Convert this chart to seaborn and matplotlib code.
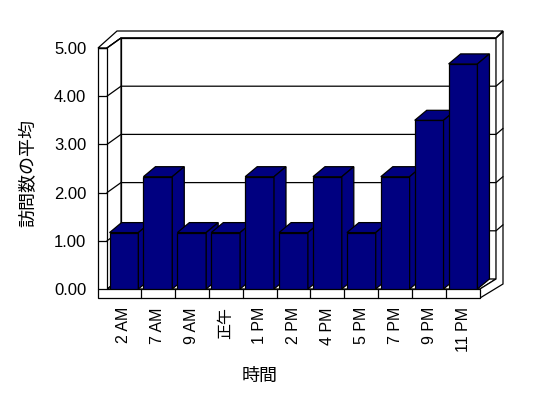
import matplotlib
matplotlib.use('Agg')
import matplotlib.pyplot as plt
import seaborn as sns
from matplotlib.patches import Polygon
from matplotlib.lines import Line2D
from matplotlib.transforms import IdentityTransform

# ---- data ----
hours = ['2 AM', '7 AM', '9 AM', '正午', '1 PM', '2 PM', '4 PM', '5 PM', '7 PM', '9 PM', '11 PM']
visits = [1.17, 2.33, 1.17, 1.17, 2.33, 1.17, 2.33, 1.17, 2.33, 3.5, 4.67]
y_ticks = [0, 1, 2, 3, 4, 5]
y_tick_labels = ['0.00', '1.00', '2.00', '3.00', '4.00', '5.00']
x_title = '時間'
y_title = '訪問数の平均'

sns.set_style('white')
plt.rcParams['font.family'] = ['Liberation Sans', 'Noto Sans CJK JP', 'DejaVu Sans']
plt.rcParams['text.color'] = 'black'
plt.rcParams['xtick.color'] = 'black'
plt.rcParams['ytick.color'] = 'black'
plt.rcParams['xtick.labelcolor'] = 'black'
plt.rcParams['ytick.labelcolor'] = 'black'

W, H = 548, 398
fig = plt.figure(figsize=(W / 100, H / 100), dpi=100)
fig.patch.set_facecolor('white')
ax = fig.add_axes([107 / W, (H - 289) / H, 373 / W, 241 / H])

NAVY = '#000080'
LW = 0.9
sns.barplot(x=hours, y=visits, order=hours, color=NAVY, saturation=1, width=0.85,
            edgecolor='black', linewidth=LW, ax=ax)
bars = list(ax.patches)
ax.set_xlim(-0.5, len(hours) - 0.5)
ax.set_ylim(0, 5)
ax.set_yticks(y_ticks)
ax.set_yticklabels(y_tick_labels)
ax.set_xlabel('')
ax.set_ylabel('')
ax.grid(False)
for s in ax.spines.values():
    s.set_visible(False)
ax.patch.set_visible(False)
ax.tick_params(axis='y', length=0, pad=15, labelsize=12, labelcolor='black')
ax.tick_params(axis='x', length=0, pad=13, labelsize=11.5, labelrotation=90, labelcolor='black')

IDT = IdentityTransform()


def P(x, y):
    return (x, H - y)


def poly(pts, z, fc='white'):
    ax.add_patch(Polygon(pts, closed=True, facecolor=fc, edgecolor='black', linewidth=LW,
                         transform=IDT, clip_on=False, zorder=z))


def line(pts, z):
    xs = [p[0] for p in pts]
    ys = [p[1] for p in pts]
    ax.add_line(Line2D(xs, ys, color='black', linewidth=LW, transform=IDT, clip_on=False, zorder=z))


# frame geometry (image pixel coordinates)
x_out, x_in = 98, 107
x_front_r = 480
x_back_l, x_back_r, x_back_o = 121, 496, 503
y_top_front = 48
y_floor_front, y_floor_bot = 289, 298
y_back_top, y_back_out = 38, 31
y_back_floor = 279

# back wall face
poly([P(x_back_l, y_back_top), P(x_back_r, y_back_top), P(x_back_r, y_back_floor), P(x_back_l, y_back_floor)], 0.2)
# top strip (left wall top + back wall top)
poly([P(x_out, y_top_front), P(x_in, y_top_front), P(x_back_l, y_back_top), P(x_back_r, y_back_top),
      P(x_back_o, y_back_out), P(117, y_back_out)], 0.2)
# left wall inner face
poly([P(x_in, y_top_front), P(x_back_l, y_back_top), P(x_back_l, y_back_floor), P(x_in, y_floor_front)], 0.2)
# floor top
poly([P(x_in, y_floor_front), P(x_back_l, y_back_floor), P(x_back_r, y_back_floor), P(x_front_r, y_floor_front)], 0.2)
# right side (back wall edge + floor side)
poly([P(x_front_r, y_floor_front), P(x_back_r, y_back_floor), P(x_back_r, y_back_top), P(x_back_o, y_back_out),
      P(x_back_o, 284), P(x_front_r, y_floor_bot)], 0.2)
# front L (left wall front + floor front)
poly([P(x_out, y_top_front), P(x_in, y_top_front), P(x_in, y_floor_front), P(x_front_r, y_floor_front),
      P(x_front_r, y_floor_bot), P(x_out, y_floor_bot)], 0.2)

# category separators on the floor front face
for k in range(1, len(hours)):
    xd = ax.transData.transform((k - 0.5, 0))[0]
    line([(xd, H - y_floor_front), (xd, H - y_floor_bot)], 0.5)

# gridlines and ticks
for v in y_ticks:
    yd = ax.transData.transform((0, v))[1]
    line([(x_out, yd), (x_in, yd)], 0.5)
    if v > 0:
        line([(x_in, yd), (x_back_l, yd + 10), (x_back_r, yd + 10), (x_back_o, yd + 16)], 0.5)

# bar top and side faces
DX, DY = 12, 10
for i, p in enumerate(bars):
    z = 3 + i * 0.01
    p.set_zorder(z)
    x0 = p.get_x()
    w = p.get_width()
    h = p.get_height()
    dx0, dy0 = ax.transData.transform((x0, 0))
    dx1, dy1 = ax.transData.transform((x0 + w, h))
    poly([(dx0, dy1), (dx1, dy1), (dx1 + DX, dy1 + DY), (dx0 + DX, dy1 + DY)], z, NAVY)
    poly([(dx1, dy0), (dx1, dy1), (dx1 + DX, dy1 + DY), (dx1 + DX, dy0 + DY)], z, NAVY)

fig.text(29 / W, 1 - 173 / H, y_title, rotation=90, ha='center', va='center', fontsize=13, color='black')
fig.text(260 / W, 1 - 376 / H, x_title, ha='center', va='center', fontsize=13, color='black')

fig.savefig('out.png', dpi=100)
